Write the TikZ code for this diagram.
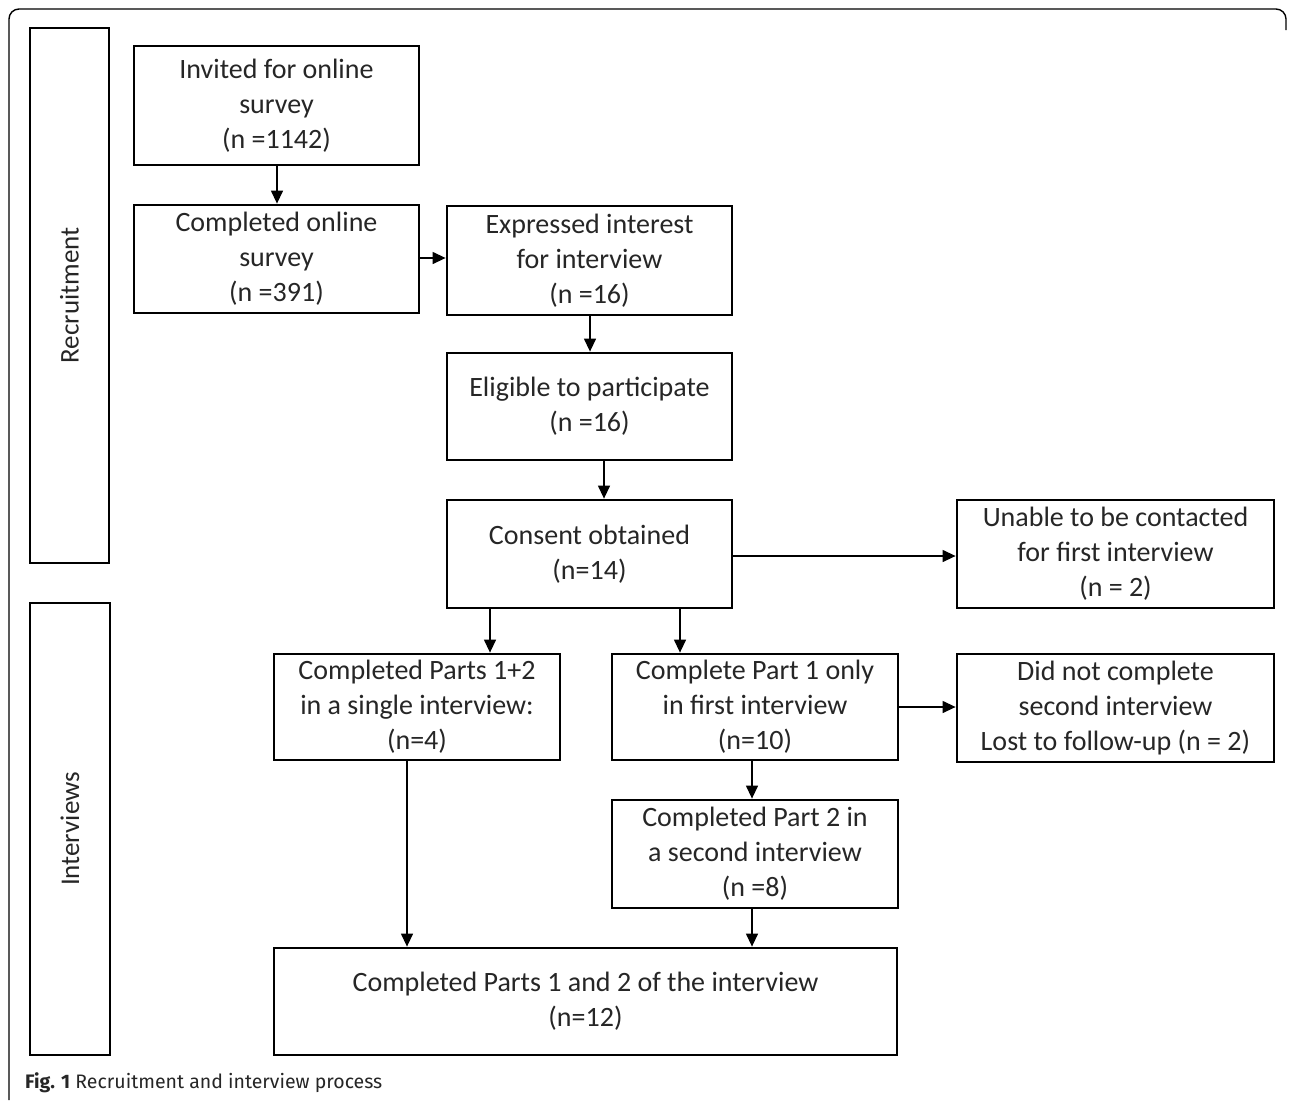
\documentclass[tikz,border=0pt]{standalone}
\usepackage{fontspec}
\setmainfont{Carlito}
\newfontfamily\capfont{Fira Sans}
\usetikzlibrary{arrows.meta}
\begin{document}
\begin{tikzpicture}[x=1pt,y=-1pt,
  box/.style={draw=black, line width=2.8pt, align=center, inner sep=2pt,
    font=\fontsize{28}{35}\selectfont, text=black!85},
  side/.style={draw=black, line width=2.8pt},
  arr/.style={line width=1.3pt, -{Triangle[length=13pt,width=12pt]}},
  lab/.style={font=\fontsize{27}{32}\selectfont, text=black!85, rotate=90}]
\useasboundingbox (0,0) rectangle (1290,1100);
\fill[white] (0,0) rectangle (1290,1100);
% outer frame
\draw[line width=1.4pt, rounded corners=10pt] (9,1100) -- (9,9) -- (1286,9) -- (1286,30);
% side boxes
\node[side, minimum width=79pt, minimum height=535pt] (rec) at (69.5,295.5) {};
\node[side, minimum width=80pt, minimum height=452pt] (int) at (70,829) {};
\node[lab] (reclab) at (rec.center) {Recruitment};
\node[lab] (intlab) at (int.center) {Interviews};
% boxes
\node[box, minimum width=285pt, minimum height=119pt] (b1) at (276.5,105.5) {Invited for online\\survey\\(n =1142)};
\node[box, minimum width=285pt, minimum height=108pt] (b2) at (276.5,259) {Completed online\\survey\\(n =391)};
\node[box, minimum width=285pt, minimum height=109pt] (b3) at (589.5,260.5) {Expressed interest\\for interview\\(n =16)};
\node[box, minimum width=285pt, minimum height=107pt] (b4) at (589.5,406.5) {Eligible to participate\\(n =16)};
\node[box, minimum width=285pt, minimum height=108pt] (b5) at (589.5,554) {Consent obtained\\(n=14)};
\node[box, minimum width=317pt, minimum height=108pt] (b6) at (1115.5,554) {Unable to be contacted\\for first interview\\(n = 2)};
\node[box, minimum width=286pt, minimum height=106pt] (b7) at (417,707) {Completed Parts 1+2\\in a single interview:\\(n=4)};
\node[box, minimum width=286pt, minimum height=106pt] (b8) at (755,707) {Complete Part 1 only\\in first interview\\(n=10)};
\node[box, minimum width=317pt, minimum height=108pt] (b9) at (1115.5,708) {Did not complete\\second interview\\Lost to follow-up (n = 2)};
\node[box, minimum width=286pt, minimum height=108pt] (b10) at (755,854) {Completed Part 2 in\\a second interview\\(n =8)};
\node[box, minimum width=623pt, minimum height=107pt] (b11) at (585.5,1001.5) {Completed Parts 1 and 2 of the interview\\(n=12)};
% arrows
\draw[arr] (b1.south -| 277,0) -- (b2.north -| 277,0);
\draw[arr] (b2.east |- 0,258) -- (b3.west |- 0,258);
\draw[arr] (b3.south -| 590,0) -- (b4.north -| 590,0);
\draw[arr] (b4.south -| 604,0) -- (b5.north -| 604,0);
\draw[arr] (b5.east |- 0,556) -- (b6.west |- 0,556);
\draw[arr] (b5.south -| 490,0) -- (b7.north -| 490,0);
\draw[arr] (b5.south -| 680,0) -- (b8.north -| 680,0);
\draw[arr] (b8.east |- 0,707) -- (b9.west |- 0,707);
\draw[arr] (b8.south -| 752,0) -- (b10.north -| 752,0);
\draw[arr] (b7.south -| 407,0) -- (b11.north -| 407,0);
\draw[arr] (b10.south -| 752,0) -- (b11.north -| 752,0);
% caption
\node[anchor=west, font=\capfont\fontsize{19.5}{24}\selectfont, text=black!85, inner sep=0pt] (cap) at (25,1083) {{\bfseries Fig. 1} Recruitment and interview process};
\end{tikzpicture}
\end{document}
